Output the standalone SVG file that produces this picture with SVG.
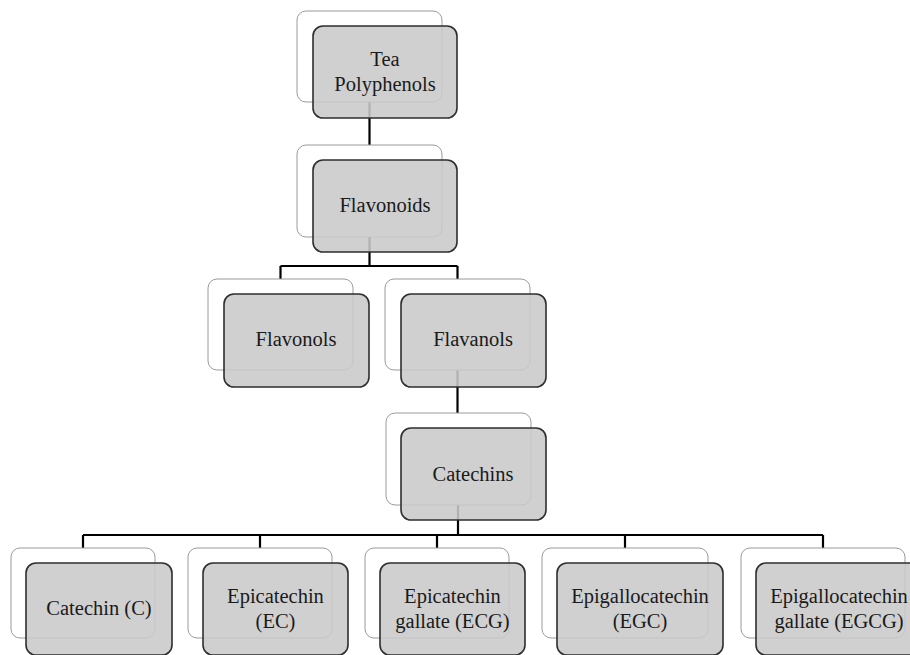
<svg xmlns="http://www.w3.org/2000/svg" width="910" height="655" viewBox="0 0 910 655">
<style>
.back{fill:#ffffff;stroke:#9a9a9a;stroke-width:1}
.front{fill:#c9c9c9;fill-opacity:0.88;stroke:#2e2e2e;stroke-width:1.6}
.lbl{font-family:"Liberation Serif","Times New Roman",serif;font-size:20.5px;fill:#1a1a1a;text-anchor:middle}
.conn{fill:none;stroke:#000;stroke-width:2.2}
</style>
<rect width="910" height="655" fill="#fff"/>
<g id="connectors" class="conn">
<path d="M369.5,100 V145"/>
<path d="M369.5,235 V266 M280.5,266 H457.5 M280.5,266 V279 M457.5,266 V279"/>
<path d="M457.5,368 V413"/>
<path d="M458,503 V535 M83,535 H823 M83,535 V548 M260,535 V548 M437,535 V548 M625,535 V548 M823,535 V548"/>
</g>
<g id="tea-polyphenols">
<rect class="back" x="297" y="11" width="145" height="91" rx="9"/>
<rect class="front" x="313" y="26" width="144" height="92" rx="10"/>
<text class="lbl" x="385" y="66">Tea</text>
<text class="lbl" x="385" y="91">Polyphenols</text>
</g>
<g id="flavonoids">
<rect class="back" x="297" y="145" width="145" height="92" rx="9"/>
<rect class="front" x="313" y="160" width="144" height="92" rx="10"/>
<text class="lbl" x="385" y="212">Flavonoids</text>
</g>
<g id="flavonols">
<rect class="back" x="208" y="279" width="145" height="91" rx="9"/>
<rect class="front" x="224" y="294" width="145" height="93" rx="10"/>
<text class="lbl" x="296" y="346">Flavonols</text>
</g>
<g id="flavanols">
<rect class="back" x="385" y="279" width="145" height="91" rx="9"/>
<rect class="front" x="401" y="294" width="145" height="93" rx="10"/>
<text class="lbl" x="473" y="346">Flavanols</text>
</g>
<g id="catechins">
<rect class="back" x="386" y="413" width="145" height="92" rx="9"/>
<rect class="front" x="401" y="428" width="145" height="92" rx="10"/>
<text class="lbl" x="473" y="481">Catechins</text>
</g>
<g id="catechin-c">
<rect class="back" x="11" y="548" width="144" height="90" rx="9"/>
<rect class="front" x="26" y="563" width="146" height="92" rx="10"/>
<text class="lbl" x="99" y="615">Catechin (C)</text>
</g>
<g id="epicatechin-ec">
<rect class="back" x="188" y="548" width="144" height="90" rx="9"/>
<rect class="front" x="203" y="563" width="145" height="92" rx="10"/>
<text class="lbl" x="275.5" y="603">Epicatechin</text>
<text class="lbl" x="275.5" y="628">(EC)</text>
</g>
<g id="epicatechin-gallate-ecg">
<rect class="back" x="365" y="548" width="144" height="90" rx="9"/>
<rect class="front" x="380" y="563" width="145" height="92" rx="10"/>
<text class="lbl" x="452.5" y="603">Epicatechin</text>
<text class="lbl" x="452.5" y="628">gallate (ECG)</text>
</g>
<g id="epigallocatechin-egc">
<rect class="back" x="542" y="548" width="166" height="90" rx="9"/>
<rect class="front" x="557" y="563" width="166" height="92" rx="10"/>
<text class="lbl" x="640" y="603">Epigallocatechin</text>
<text class="lbl" x="640" y="628">(EGC)</text>
</g>
<g id="epigallocatechin-gallate-egcg">
<rect class="back" x="741" y="548" width="164" height="90" rx="9"/>
<rect class="front" x="756" y="563" width="166" height="92" rx="10"/>
<text class="lbl" x="839" y="603">Epigallocatechin</text>
<text class="lbl" x="839" y="628">gallate (EGCG)</text>
</g>
</svg>
